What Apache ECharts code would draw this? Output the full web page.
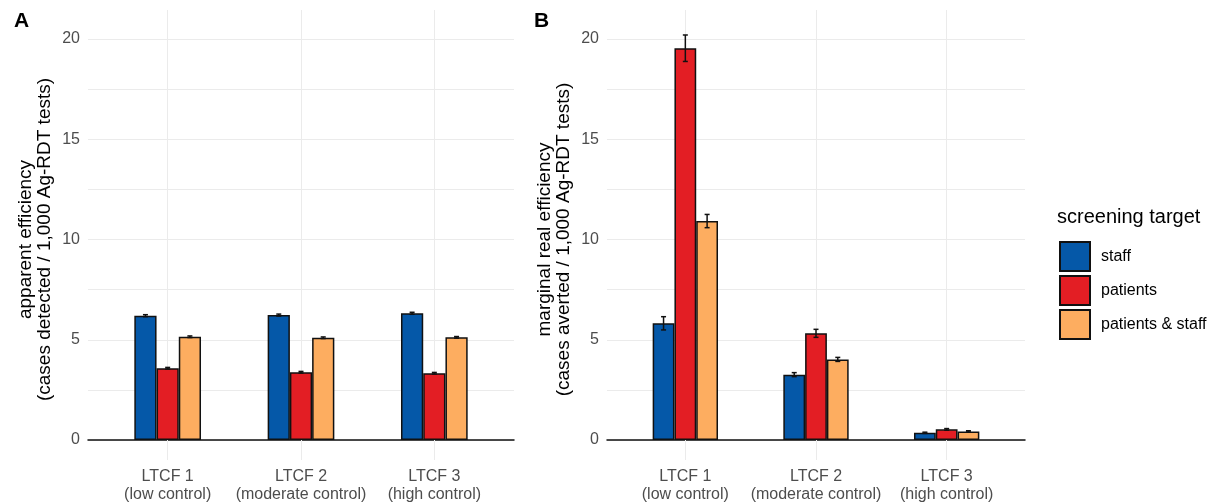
<!DOCTYPE html>
<html>
<head>
<meta charset="utf-8">
<script src="https://cdn.jsdelivr.net/npm/echarts@6/dist/echarts.min.js"></script>
<style>
  html, body { margin: 0; padding: 0; background: #fff; }
  #main { width: 1211px; height: 503px; }
</style>
</head>
<body>
<div id="main"></div>
<script>
// categories (x axis)
const categories = ['LTCF 1\n(low control)', 'LTCF 2\n(moderate control)', 'LTCF 3\n(high control)']
const seriesNames = ['staff', 'patients', 'patients & staff']
const colors = ['#0558a8', '#e31e24', '#fdad60']

// panel A: apparent efficiency
const aStaff = [6.2, 6.23, 6.32]
const aPatients = [3.58, 3.38, 3.33]
const aBoth = [5.15, 5.1, 5.12]
const aStaffErr = [0.05, 0.05, 0.05]
const aPatientsErr = [0.04, 0.04, 0.04]
const aBothErr = [0.04, 0.04, 0.04]

// panel B: marginal real efficiency
const bStaff = [5.82, 3.26, 0.36]
const bPatients = [19.54, 5.32, 0.53]
const bBoth = [10.92, 4.02, 0.43]
const bStaffErr = [0.33, 0.1, 0.03]
const bPatientsErr = [0.66, 0.2, 0.04]
const bBothErr = [0.33, 0.1, 0.03]

// y tick labels
const yTicks = [0, 5, 10, 15, 20]

var myChart = echarts.init(document.getElementById('main'))

const tickColor = '#4d4d4d'
const gridColor = '#ebebeb'
const font = 'Liberation Sans'

// y scale of the bar grids (grid spans 10..460 px, 0 -> 440, 20 -> 39)
const pxPerUnit = 401 / 20
const mainMin = -20 / pxPerUnit
const mainMax = 20 + 29 / pxPerUnit

function bgAxes(gridIndex, title) {
  return {
    x: {
      type: 'value', gridIndex, min: 0, max: 1,
      axisLine: { show: true, onZero: false, lineStyle: { color: '#111', width: 1.5 } },
      axisTick: { show: false }, axisLabel: { show: false }, splitLine: { show: false },
    },
    y: {
      type: 'value', gridIndex, min: 0, max: 20, interval: 2.5,
      axisLine: { show: false }, axisTick: { show: false },
      splitLine: { show: true, lineStyle: { color: gridColor, width: 1 } },
      axisLabel: {
        color: tickColor, fontSize: 16, margin: 8,
        formatter: (v) => (yTicks.indexOf(v) >= 0 ? String(v) : ''),
      },
      name: title,
      nameLocation: 'middle',
      nameRotate: 90,
      nameGap: 34,
      nameTextStyle: { color: '#000', fontSize: 19, lineHeight: 19 },
    },
  }
}

function mainAxes(gridIndex) {
  return {
    x: {
      type: 'category', gridIndex, data: categories,
      axisLine: { show: false }, axisTick: { show: false },
      splitLine: { show: false },
      axisLabel: { color: tickColor, fontSize: 16, lineHeight: 18, margin: 8, interval: 0 },
    },
    y: { type: 'value', gridIndex, min: mainMin, max: mainMax, show: false },
  }
}

const axA = bgAxes(0, 'apparent efficiency\n(cases detected / 1,000 Ag-RDT tests)')
const axB = bgAxes(1, 'marginal real efficiency\n(cases averted / 1,000 Ag-RDT tests)')
const mA = mainAxes(2)
const mB = mainAxes(3)

function barSeries(name, data, color, axisIndex) {
  return {
    name, type: 'bar', data,
    xAxisIndex: axisIndex, yAxisIndex: axisIndex,
    barWidth: '16.67%', barGap: '0%', z: 2,
    itemStyle: { color, borderColor: '#111', borderWidth: 1.5 },
  }
}

function errSeries(valueSets, errSets, axisIndex) {
  const data = []
  valueSets.forEach((vals, s) => {
    vals.forEach((v, c) => data.push([c, v, errSets[s][c], s]))
  })
  return {
    type: 'custom', xAxisIndex: axisIndex, yAxisIndex: axisIndex, z: 3,
    encode: { x: 0, y: 1 },
    data,
    renderItem: function (params, api) {
      const c = api.value(0), v = api.value(1), e = api.value(2), s = api.value(3)
      const bandW = api.size([1, 0])[0]
      const x = api.coord([c, v])[0] + (s - 1) * bandW / 6
      const y1 = api.coord([c, v + e])[1]
      const y2 = api.coord([c, v - e])[1]
      const cap = 2.5
      const style = { stroke: '#111', lineWidth: 1.5 }
      return {
        type: 'group',
        children: [
          { type: 'line', shape: { x1: x, y1: y1, x2: x, y2: y2 }, style },
          { type: 'line', shape: { x1: x - cap, y1: y1, x2: x + cap, y2: y1 }, style },
          { type: 'line', shape: { x1: x - cap, y1: y2, x2: x + cap, y2: y2 }, style },
        ],
      }
    },
  }
}

function vGridSeries(axisIndex) {
  return {
    type: 'line', xAxisIndex: axisIndex, yAxisIndex: axisIndex, z: 1,
    data: [], silent: true,
    markLine: {
      silent: true, z: 1, symbol: ['none', 'none'], label: { show: false },
      lineStyle: { color: gridColor, width: 1, type: 'solid' },
      data: categories.map((c) => ({ xAxis: c })),
      animation: false,
    },
  }
}

var option = {
  animation: false,
  textStyle: { fontFamily: font },
  title: [
    { text: 'A', left: 9, top: 6, textStyle: { fontSize: 21, fontWeight: 'bold', color: '#000', fontFamily: font } },
    { text: 'B', left: 529, top: 6, textStyle: { fontSize: 21, fontWeight: 'bold', color: '#000', fontFamily: font } },
    { text: 'screening target', left: 1052, top: 202, textStyle: { fontSize: 20, fontWeight: 'normal', color: '#000', fontFamily: font } },
  ],
  legend: {
    data: seriesNames,
    orient: 'vertical',
    left: 1054, top: 236,
    itemWidth: 30, itemHeight: 29, itemGap: 3,
    icon: 'rect',
    textStyle: { fontSize: 16, color: '#000', padding: [0, 0, 0, 6] },
    selectedMode: false,
  },
  grid: [
    { left: 88, right: 1211 - 514, top: 39, bottom: 63, outerBoundsMode: 'none' },
    { left: 607, right: 1211 - 1025, top: 39, bottom: 63, outerBoundsMode: 'none' },
    { left: 101, right: 1211 - 501, top: 10, bottom: 43, outerBoundsMode: 'none' },
    { left: 620, right: 1211 - 1012, top: 10, bottom: 43, outerBoundsMode: 'none' },
  ],
  xAxis: [axA.x, axB.x, mA.x, mB.x],
  yAxis: [axA.y, axB.y, mA.y, mB.y],
  series: [
    vGridSeries(2),
    vGridSeries(3),
    barSeries(seriesNames[0], aStaff, colors[0], 2),
    barSeries(seriesNames[1], aPatients, colors[1], 2),
    barSeries(seriesNames[2], aBoth, colors[2], 2),
    barSeries(seriesNames[0], bStaff, colors[0], 3),
    barSeries(seriesNames[1], bPatients, colors[1], 3),
    barSeries(seriesNames[2], bBoth, colors[2], 3),
    errSeries([aStaff, aPatients, aBoth], [aStaffErr, aPatientsErr, aBothErr], 2),
    errSeries([bStaff, bPatients, bBoth], [bStaffErr, bPatientsErr, bBothErr], 3),
  ],
}

option && myChart.setOption(option)
window.addEventListener('resize', function () {
  myChart.resize()
})
</script>
</body>
</html>
